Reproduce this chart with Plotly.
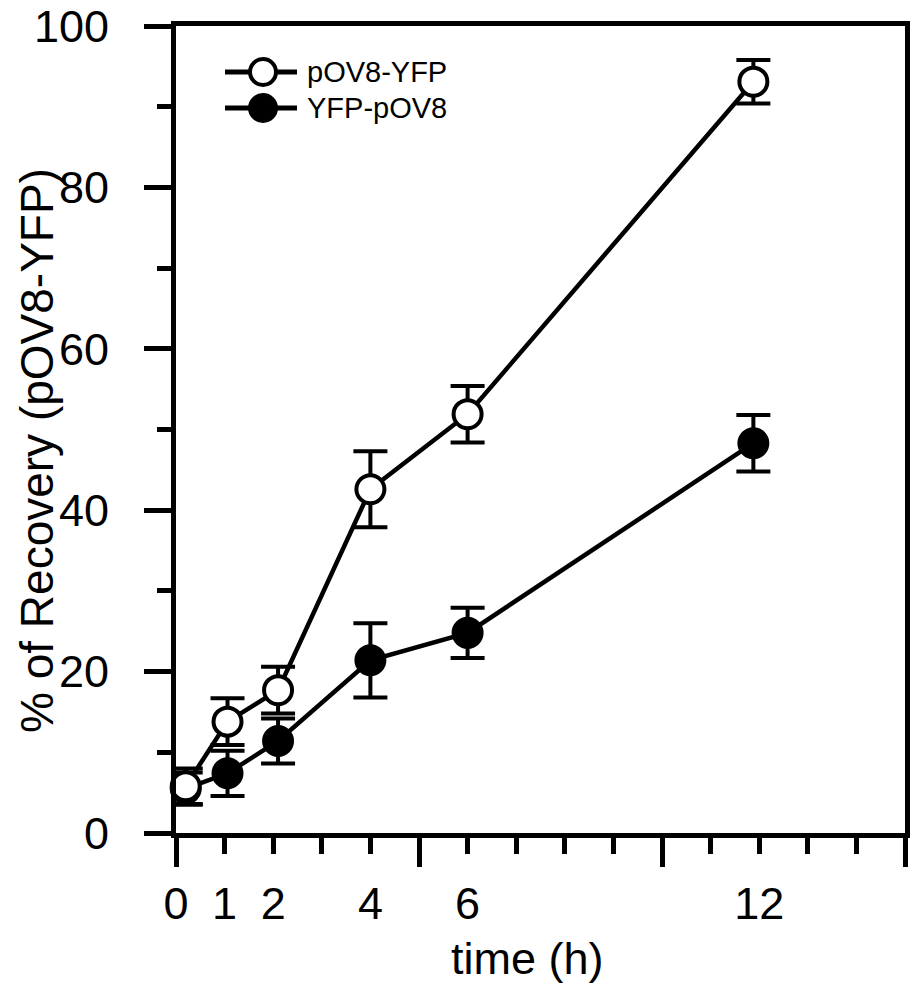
import plotly.graph_objects as go

# ---- data ----
time_labels = [0, 1, 2, 4, 6, 12]                 # x tick labels (h)
time_plotted = [0.2, 1.06, 2.1, 4.0, 6.0, 11.88]   # x positions of points as drawn
series_names = ["pOV8-YFP", "YFP-pOV8"]
pov8_yfp = [5.8, 13.8, 17.7, 42.6, 51.9, 93.1]
pov8_yfp_err = [2.2, 2.9, 2.9, 4.7, 3.5, 2.7]
yfp_pov8 = [5.5, 7.4, 11.4, 21.4, 24.8, 48.3]
yfp_pov8_err = [2.0, 2.8, 2.8, 4.6, 3.1, 3.5]
x_major_ticks = [0, 5, 10, 15]

FONT = "Liberation Sans, Arial, Helvetica, sans-serif"
W, H = 913, 984
L, R, T, B = 176, 8, 26, 151
PW, PH = W - L - R, H - T - B


def px_x(p):
    return (p - L) / PW


def px_y(p):
    return (H - B - p) / PH


fig = go.Figure()

# filled series first (drawn underneath)
fig.add_trace(go.Scatter(
    x=time_plotted, y=yfp_pov8, name=series_names[1], mode="lines+markers",
    line=dict(color="black", width=4.5),
    marker=dict(symbol="circle", size=28, color="black", line=dict(color="black", width=4)),
    error_y=dict(type="data", array=yfp_pov8_err, color="black", thickness=4, width=17),
    cliponaxis=False, showlegend=False,
))
fig.add_trace(go.Scatter(
    x=time_plotted, y=pov8_yfp, name=series_names[0], mode="lines+markers",
    line=dict(color="black", width=4.5),
    marker=dict(symbol="circle", size=28, color="white", line=dict(color="black", width=4)),
    error_y=dict(type="data", array=pov8_yfp_err, color="black", thickness=4, width=17),
    cliponaxis=False, showlegend=False,
))
# empty trace to host the label axis
fig.add_trace(go.Scatter(x=[], y=[], xaxis="x2", showlegend=False, hoverinfo="skip"))

fig.update_layout(
    width=W, height=H, autosize=False, showlegend=False,
    margin=dict(l=L, r=R, t=T, b=B, pad=0, autoexpand=False),
    paper_bgcolor="white", plot_bgcolor="white",
    font=dict(family=FONT, size=45, color="black"),
    xaxis=dict(
        range=[0, 15], tickvals=x_major_ticks, showticklabels=False,
        ticks="outside", ticklen=29, tickwidth=5, tickcolor="black",
        minor=dict(dtick=1, tick0=0, ticks="outside", ticklen=16, tickwidth=5, tickcolor="black", showgrid=False),
        showline=True, linecolor="black", linewidth=5, mirror=True,
        showgrid=False, zeroline=False, fixedrange=True, automargin=False,
    ),
    xaxis2=dict(
        range=[0, 15], overlaying="x", anchor="y", side="bottom",
        tickvals=time_labels, ticktext=[str(t) for t in time_labels],
        ticks="", showline=False, showgrid=False, zeroline=False, automargin=False,
        ticklabelstandoff=40, tickfont=dict(family=FONT, size=45, color="black"),
    ),
    yaxis=dict(
        range=[0, 100], tick0=0, dtick=20,
        ticks="outside", ticklen=27, tickwidth=5, tickcolor="black",
        minor=dict(dtick=10, tick0=0, ticks="outside", ticklen=14, tickwidth=5, tickcolor="black", showgrid=False),
        showline=True, linecolor="black", linewidth=5, mirror=True,
        showgrid=False, zeroline=False, ticklabelstandoff=26, automargin=False,
        tickfont=dict(family=FONT, size=45, color="black"),
    ),
)

annotations = [
    dict(text="% of Recovery (pOV8-YFP)", xref="paper", yref="paper",
         x=px_x(37), y=px_y(451), xanchor="center", yanchor="middle",
         textangle=-90, showarrow=False, font=dict(family=FONT, size=46, color="black")),
    dict(text="time (h)", xref="paper", yref="paper",
         x=px_x(527.5), y=px_y(958), xanchor="center", yanchor="middle",
         showarrow=False, font=dict(family=FONT, size=45, color="black")),
]

# manual legend (symbols larger than plotly's legend allows)
shapes = []
legend_rows = [(series_names[0], "white", 72), (series_names[1], "black", 108)]
for name, fill, ypx in legend_rows:
    yp = px_y(ypx)
    shapes.append(dict(type="line", xref="paper", yref="paper",
                       x0=px_x(225), x1=px_x(297), y0=yp, y1=yp,
                       line=dict(color="black", width=5)))
    shapes.append(dict(type="circle", xref="paper", yref="paper",
                       xsizemode="pixel", ysizemode="pixel",
                       xanchor=px_x(263), yanchor=yp,
                       x0=-13, x1=13, y0=-13, y1=13,
                       fillcolor=fill, line=dict(color="black", width=4)))
    annotations.append(dict(text=name, xref="paper", yref="paper",
                            x=px_x(305), y=yp, xanchor="left", yanchor="middle",
                            showarrow=False, font=dict(family=FONT, size=29, color="black")))

fig.update_layout(annotations=annotations, shapes=shapes)

fig.write_html("out.html", config={"displayModeBar": False})
